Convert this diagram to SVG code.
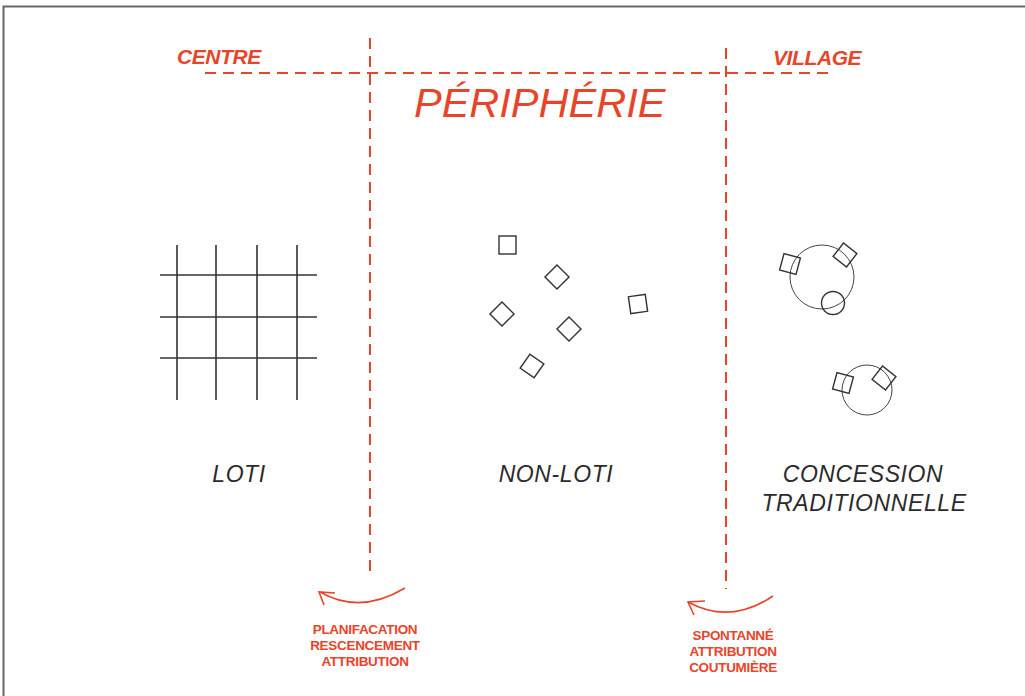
<svg xmlns="http://www.w3.org/2000/svg" width="1025" height="696" viewBox="0 0 1025 696">
<style>
.red{fill:#e8442a;font-family:"Liberation Sans",Arial,sans-serif}
.hdr{font-size:21px;font-weight:bold;font-style:italic;letter-spacing:-0.4px}
.ttl{font-size:41.5px;font-style:italic}
.lbl{font-family:"Liberation Sans",Arial,sans-serif;font-size:23px;font-style:italic;fill:#2b2b2b;letter-spacing:0.6px;text-anchor:middle}
.note{font-size:13.5px;font-weight:bold;text-anchor:middle;letter-spacing:-0.3px}
.dash{stroke:#e8442a;stroke-width:2;fill:none;stroke-dasharray:11 7}
.arc{stroke:#e8442a;stroke-width:1.6;fill:none}
.grid line{stroke:#333;stroke-width:1.6}
.sq{fill:none;stroke:#333;stroke-width:1.4}
.ci{fill:none;stroke:#444;stroke-width:1}
</style>
<rect width="1025" height="696" fill="#fff"/>
<path d="M3.5 696 V6.5 H1025" fill="none" stroke="#666" stroke-width="2"/>

<g id="connectors">
  <line class="dash" x1="205" y1="73" x2="830" y2="73"/>
  <line class="dash" x1="370" y1="38" x2="370" y2="576"/>
  <line class="dash" x1="726" y1="48" x2="726" y2="589"/>
  <path class="arc" d="M405 588 Q360 615 320 592"/>
  <path class="arc" d="M335 593 L319 592 L324 605"/>
  <path class="arc" d="M773 596 Q730 625 688 602"/>
  <path class="arc" d="M705 601 L688 602 L694 615"/>
</g>

<g id="centre"><text class="red hdr" x="177" y="64">CENTRE</text></g>
<g id="village"><text class="red hdr" x="773" y="65">VILLAGE</text></g>
<g id="peripherie"><text class="red ttl" x="414" y="117">PÉRIPHÉRIE</text></g>

<g id="loti">
  <g class="grid">
    <line x1="177" y1="245" x2="177" y2="400"/>
    <line x1="216" y1="245" x2="216" y2="400"/>
    <line x1="257" y1="245" x2="257" y2="400"/>
    <line x1="297" y1="245" x2="297" y2="400"/>
    <line x1="160" y1="275" x2="317" y2="275"/>
    <line x1="160" y1="317" x2="317" y2="317"/>
    <line x1="160" y1="358" x2="317" y2="358"/>
  </g>
  <text class="lbl" x="239" y="482">LOTI</text>
</g>

<g id="non-loti">
  <rect class="sq" x="499" y="236" width="17" height="18"/>
  <rect class="sq" x="-8.5" y="-8.5" width="17" height="17" transform="translate(557 277) rotate(45)"/>
  <rect class="sq" x="-8.5" y="-8.5" width="17" height="17" transform="translate(502 314) rotate(45)"/>
  <rect class="sq" x="-8.5" y="-8.5" width="17" height="17" transform="translate(569 329) rotate(45)"/>
  <rect class="sq" x="-8.5" y="-8.5" width="17" height="17" transform="translate(532 366) rotate(35)"/>
  <rect class="sq" x="-8.5" y="-8.5" width="17" height="17" transform="translate(638 304) rotate(-8)"/>
  <text class="lbl" x="556" y="482">NON-LOTI</text>
</g>

<g id="concession">
  <circle class="ci" cx="822" cy="277" r="32"/>
  <circle class="sq" cx="833" cy="303" r="11.5"/>
  <rect class="sq" x="-8.5" y="-8.5" width="17" height="17" transform="translate(790 264) rotate(15)"/>
  <rect class="sq" x="-8.5" y="-8.5" width="17" height="17" transform="translate(845 255) rotate(38)"/>
  <circle class="ci" cx="867" cy="390" r="25"/>
  <rect class="sq" x="-8.5" y="-8.5" width="17" height="17" transform="translate(843 383) rotate(15)"/>
  <rect class="sq" x="-8.5" y="-8.5" width="17" height="17" transform="translate(884 378) rotate(38)"/>
  <text class="lbl" x="863" y="482">CONCESSION</text>
  <text class="lbl" x="864" y="511">TRADITIONNELLE</text>
</g>

<g id="note-planification">
  <text class="red note" x="365" y="634">PLANIFACATION</text>
  <text class="red note" x="365" y="650">RESCENCEMENT</text>
  <text class="red note" x="365" y="666">ATTRIBUTION</text>
</g>
<g id="note-spontanne">
  <text class="red note" x="733" y="640">SPONTANNÉ</text>
  <text class="red note" x="733" y="656">ATTRIBUTION</text>
  <text class="red note" x="733" y="672">COUTUMIÈRE</text>
</g>
</svg>
